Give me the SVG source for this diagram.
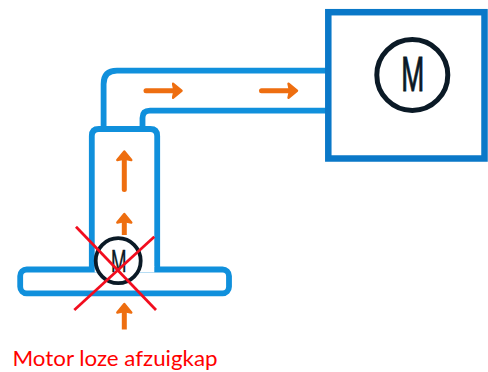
<svg xmlns="http://www.w3.org/2000/svg" width="488" height="372" viewBox="0 0 488 372">
  <style>
    .duct { fill: none; stroke: #1090DC; stroke-width: 5.8; stroke-linejoin: round; }
    .box { fill: #FFFFFF; stroke: #0A78C8; stroke-width: 6.5; }
    .flow { fill: none; stroke: #EE6E10; stroke-width: 5; }
    .motor { fill: #FFFFFF; stroke: #0B1A26; }
    .mark { font-family: "Roboto", "Liberation Sans", sans-serif; fill: #0B1A26; stroke: #0B1A26; text-anchor: start; }
    .cross { stroke: #F20D1E; stroke-width: 2.7; stroke-linecap: butt; }
    .caption { font-family: "Lato", "Liberation Sans", sans-serif; font-size: 21.500px; fill: #FF0000; }
  </style>
  <defs>
    <marker id="head" markerUnits="userSpaceOnUse" markerWidth="14" markerHeight="22" refX="3" refY="11" orient="auto">
      <path d="M1.500 4 L10 11 L1.500 18 L3 11 Z" fill="#EE6E10" stroke="#EE6E10" stroke-width="2.400" stroke-linejoin="round"/>
    </marker>
  </defs>
  <rect width="488" height="372" fill="#FFFFFF"/>

  <g id="connectors">
    <path class="duct" d="M326 70.700 H117 Q103.600 70.700 103.600 84 V128"/>
    <path class="duct" d="M326 110.700 H150 Q142.500 110.700 142.500 118 V128"/>
    <line class="flow" x1="146" y1="90.700" x2="174.500" y2="90.700" stroke-linecap="round" marker-end="url(#head)"/>
    <line class="flow" x1="261.500" y1="90.700" x2="290" y2="90.700" stroke-linecap="round" marker-end="url(#head)"/>
    <line class="flow" x1="124.300" y1="189.500" x2="124.300" y2="158.500" stroke-linecap="round" marker-end="url(#head)"/>
    <line class="flow" x1="124.300" y1="235" x2="124.300" y2="221" marker-end="url(#head)"/>
    <line class="flow" x1="124.300" y1="329.500" x2="124.300" y2="311" marker-end="url(#head)"/>
  </g>

  <g id="duct-vertical">
    <path class="duct" d="M91.800 268 V136 Q91.800 129 98.800 129 H150.200 Q157.200 129 157.200 136 V268"/>
  </g>

  <g id="hood">
    <rect class="duct" x="20.200" y="269.500" width="208.800" height="23.800" rx="6.500" style="fill:#FFFFFF"/>
    <rect x="94.700" y="266" width="59.600" height="6.400" fill="#FFFFFF"/>
  </g>

  <g id="motor-box">
    <rect class="box" x="328.300" y="12.200" width="156.200" height="146.300"/>
    <circle class="motor" cx="412.300" cy="75" r="35.500" stroke-width="5"/>
    <text class="mark" x="401.300" y="90.500" font-size="49" stroke-width="0.900" textLength="23" lengthAdjust="spacingAndGlyphs">M</text>
  </g>

  <g id="hood-motor">
    <circle class="motor" cx="118.200" cy="260.700" r="22.500" stroke-width="3.800"/>
    <text class="mark" x="111" y="271.800" font-size="31" stroke-width="0.400" textLength="15.500" lengthAdjust="spacingAndGlyphs">M</text>
  </g>

  <g id="cross">
    <line class="cross" x1="76" y1="226.700" x2="156" y2="310"/>
    <line class="cross" x1="74.300" y1="310" x2="154.300" y2="236.700"/>
  </g>

  <g id="caption">
    <text class="caption" x="12.500" y="365.500" textLength="205" lengthAdjust="spacingAndGlyphs">Motor loze afzuigkap</text>
  </g>
</svg>
